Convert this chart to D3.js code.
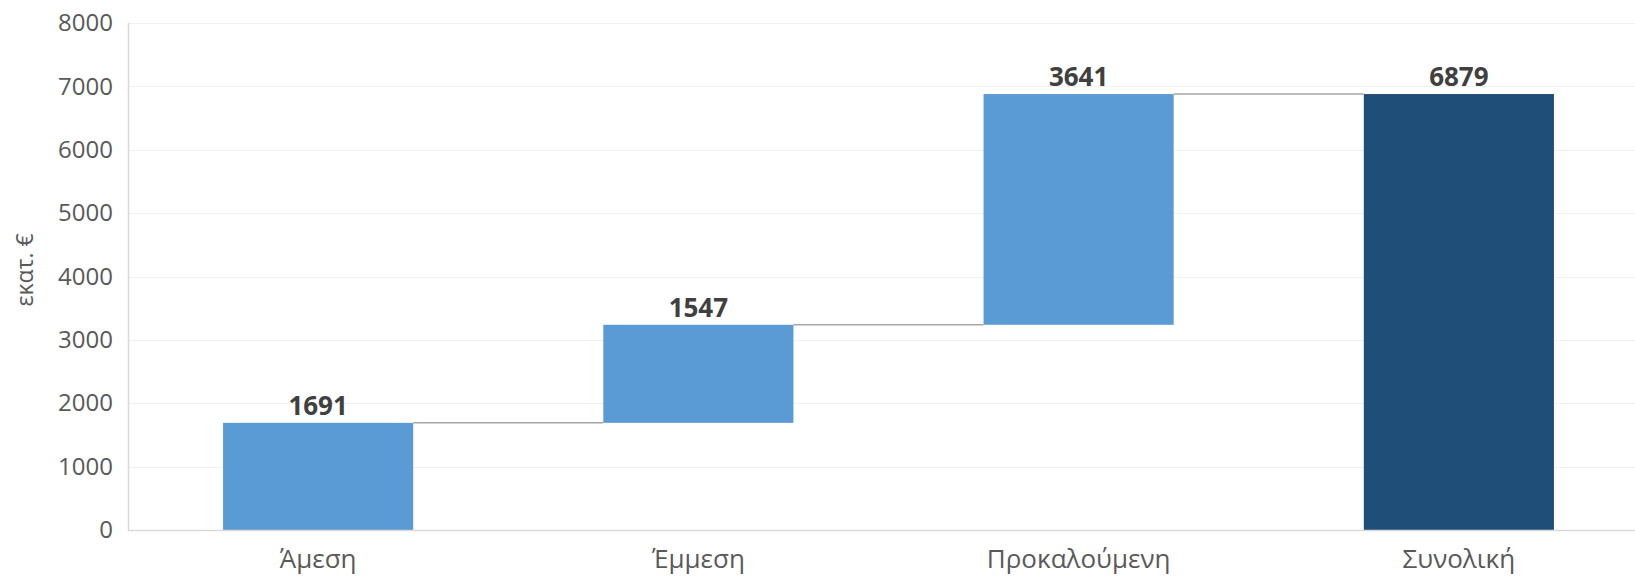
<!DOCTYPE html>
<html>
<head>
<meta charset="utf-8">
<script src="https://cdn.jsdelivr.net/npm/d3@7"></script>
<style>
  html, body { margin: 0; padding: 0; background: #fff; }
  svg { display: block; }
</style>
</head>
<body>
<svg id="chart" width="1635" height="577"></svg>
<script>
const categories = ["Άμεση", "Έμμεση", "Προκαλούμενη", "Συνολική"];
const values = [1691, 1547, 3641, 6879];
const isTotal = [false, false, false, true];
const yTicks = [0, 1000, 2000, 3000, 4000, 5000, 6000, 7000, 8000];
const yLabel = "εκατ. €";

(function () {
const svg = d3.select("#chart");
const W = 1635, H = 577;
const pLeft = 128, pRight = 1649, pTop = 23, pBottom = 530;
const FONT = "'Open Sans', 'Noto Sans', sans-serif";

// waterfall table
let run = 0;
const rows = categories.map((c, i) => {
  let base, end;
  if (isTotal[i]) { base = 0; end = values[i]; run = values[i]; }
  else { base = run; end = run + values[i]; run = end; }
  return { cat: c, value: values[i], base, end, total: isTotal[i] };
});

const x = d3.scaleBand().domain(categories).range([pLeft, pRight]).paddingInner(0.5).paddingOuter(0.25);
const y = d3.scaleLinear().domain([0, 8000]).range([pBottom, pTop]);

// gridlines
svg.append("g").selectAll("line").data(yTicks.filter(t => t > 0)).join("line")
  .attr("x1", pLeft).attr("x2", W)
  .attr("y1", d => Math.round(y(d)) + 0.5).attr("y2", d => Math.round(y(d)) + 0.5)
  .attr("stroke", "#f0f0f0").attr("stroke-width", 1);

// y axis
const yAxis = d3.axisLeft(y).tickValues(yTicks).tickSize(0).tickPadding(15).tickFormat(d3.format("d"));
const gy = svg.append("g").attr("transform", `translate(${pLeft},0)`).call(yAxis);
gy.select(".domain").remove();
gy.selectAll("text").attr("font-family", FONT).attr("font-size", 24).attr("fill", "#595959");

svg.append("line").attr("x1", pLeft + 0.5).attr("x2", pLeft + 0.5).attr("y1", pTop).attr("y2", pBottom)
  .attr("stroke", "#d9d9d9").attr("stroke-width", 1.5);

// bars
svg.append("g").selectAll("rect").data(rows).join("rect")
  .attr("x", d => x(d.cat))
  .attr("width", x.bandwidth())
  .attr("y", d => y(Math.max(d.base, d.end)))
  .attr("height", d => Math.abs(y(d.base) - y(d.end)))
  .attr("fill", d => d.total ? "#1f4e79" : "#5b9bd5");

// connectors
const conn = rows.slice(0, -1).map((d, i) => ({ from: d, to: rows[i + 1], level: d.end }));
svg.append("g").selectAll("line").data(conn).join("line")
  .attr("x1", d => x(d.from.cat) + x.bandwidth())
  .attr("x2", d => x(d.to.cat))
  .attr("y1", d => y(d.level)).attr("y2", d => y(d.level))
  .attr("stroke", "#a6a6a6").attr("stroke-width", 1.5);

// baseline
svg.append("line").attr("x1", pLeft).attr("x2", W).attr("y1", pBottom + 0.5).attr("y2", pBottom + 0.5)
  .attr("stroke", "#d9d9d9").attr("stroke-width", 1.5);

// value labels
svg.append("g").selectAll("text").data(rows).join("text")
  .attr("x", d => x(d.cat) + x.bandwidth() / 2)
  .attr("y", d => y(Math.max(d.base, d.end)) - 8)
  .attr("text-anchor", "middle")
  .attr("font-family", FONT).attr("font-weight", "bold").attr("font-size", 26)
  .attr("fill", "#404040")
  .text(d => d.value);

// x axis labels
const xAxis = d3.axisBottom(x).tickSize(0).tickPadding(20);
const gx = svg.append("g").attr("transform", `translate(0,${pBottom})`).call(xAxis);
gx.select(".domain").remove();
gx.selectAll("text").attr("font-family", FONT).attr("font-size", 26).attr("fill", "#595959");

// y label
svg.append("text")
  .attr("transform", `translate(33,270) rotate(-90)`)
  .attr("text-anchor", "middle")
  .attr("font-family", FONT).attr("font-size", 23).attr("fill", "#595959")
  .text(yLabel);
})();
</script>
</body>
</html>
